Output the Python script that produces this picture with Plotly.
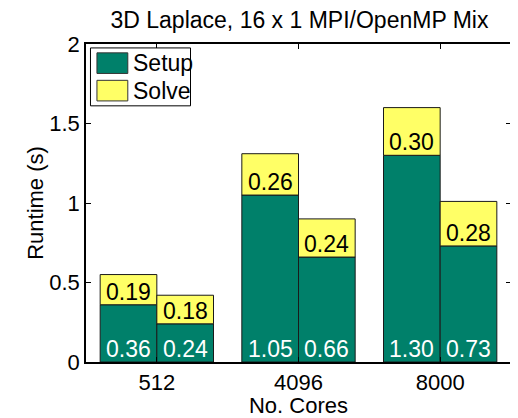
import plotly.graph_objects as go

# ---- data ----
cores = ["512", "4096", "8000"]
setup_a = [0.36, 1.05, 1.30]
solve_a = [0.19, 0.26, 0.30]
setup_b = [0.24, 0.66, 0.73]
solve_b = [0.18, 0.24, 0.28]
series_names = ["Setup", "Solve"]
y_ticks = [0, 0.5, 1, 1.5, 2]
y_tick_text = ["0", "0.5", "1", "1.5", "2"]

GREEN = "#00806A"
YELLOW = "#FFFF66"
EDGE = "#1a1a1a"
FONT = "Liberation Sans, Arial, Helvetica, sans-serif"
FS = 23
AX_FS = 22
BAR_W = 0.4

# page body has an 8px margin, so the figure is drawn at (8, 8)
OFF = 8
W, H = 518 - OFF, 418 - OFF
L, R, T, B = 86 - OFF, 513 - OFF, 44 - OFF, 368 - OFF

fig = go.Figure()

for setup, solve, off in [(setup_a, solve_a, -BAR_W), (setup_b, solve_b, 0.0)]:
    fig.add_trace(go.Bar(
        x=cores, y=setup, offset=off, width=BAR_W, name=series_names[0],
        marker=dict(color=GREEN, line=dict(color=EDGE, width=1)),
        showlegend=False, hoverinfo="skip"))
    fig.add_trace(go.Bar(
        x=cores, y=solve, base=setup, offset=off, width=BAR_W, name=series_names[1],
        marker=dict(color=YELLOW, line=dict(color=EDGE, width=1)),
        showlegend=False, hoverinfo="skip"))
    # value labels: setup at the bar foot (white), solve just above the setup top (black)
    for i in range(len(cores)):
        xc = i + off + BAR_W / 2
        fig.add_annotation(x=xc, y=0, text=f"{setup[i]:.2f}", showarrow=False,
                           yanchor="middle", yshift=13,
                           font=dict(color="white", size=FS, family=FONT))
        fig.add_annotation(x=xc, y=setup[i], text=f"{solve[i]:.2f}", showarrow=False,
                           yanchor="middle", yshift=13,
                           font=dict(color="black", size=FS, family=FONT))

# ---- custom MATLAB-style legend (domain coords, reference pixel positions) ----
def px(x): return (x - OFF - L) / (R - L)
def py(y): return (B - (y - OFF)) / (B - T)

fig.add_shape(type="rect", xref="x domain", yref="y domain",
              x0=px(90.5), x1=px(191), y0=py(107), y1=py(48),
              line=dict(color="black", width=1), fillcolor="white", layer="above")
for (y0, y1, col) in [(53, 74, GREEN), (81, 102, YELLOW)]:
    fig.add_shape(type="rect", xref="x domain", yref="y domain",
                  x0=px(97), x1=px(128), y0=py(y1), y1=py(y0),
                  line=dict(color="#333333", width=1), fillcolor=col, layer="above")
for name, yc in zip(series_names, [63.5, 91.5]):
    fig.add_annotation(xref="x domain", yref="y domain", x=px(131), y=py(yc),
                       text=name, showarrow=False, xanchor="left", yanchor="middle",
                       font=dict(size=FS, color="black", family=FONT))

fig.update_layout(
    width=W, height=H, autosize=False,
    margin=dict(l=L, r=W - R, t=T, b=H - B),
    paper_bgcolor="white", plot_bgcolor="white",
    barmode="overlay",
    font=dict(family=FONT, size=FS, color="black"),
    title=dict(text="3D Laplace, 16 x 1 MPI/OpenMP Mix", x=(L + R) / 2 / W,
               xanchor="center", y=1 - 4 / H, yanchor="top", pad=dict(t=0, b=0),
               font=dict(size=23, family=FONT, color="black")),
    showlegend=False,
)
fig.update_xaxes(
    type="category", categoryorder="array", categoryarray=cores,
    range=[-0.5, 2.5], showgrid=False, zeroline=False,
    showline=True, linecolor="black", linewidth=1.5, mirror="ticks",
    ticks="inside", ticklen=5, tickcolor="black",
    tickfont=dict(size=AX_FS, family=FONT),
    title=dict(text="No. Cores", standoff=2, font=dict(size=AX_FS, family=FONT)),
)
fig.update_yaxes(
    range=[0, 2], tickvals=y_ticks, ticktext=y_tick_text,
    showgrid=False, zeroline=False,
    showline=True, linecolor="black", linewidth=1.5, mirror="ticks",
    ticks="inside", ticklen=5, tickcolor="black",
    tickfont=dict(size=AX_FS, family=FONT),
    title=dict(text="Runtime (s)", standoff=0, font=dict(size=AX_FS, family=FONT)),
)

fig.write_html("out.html")
